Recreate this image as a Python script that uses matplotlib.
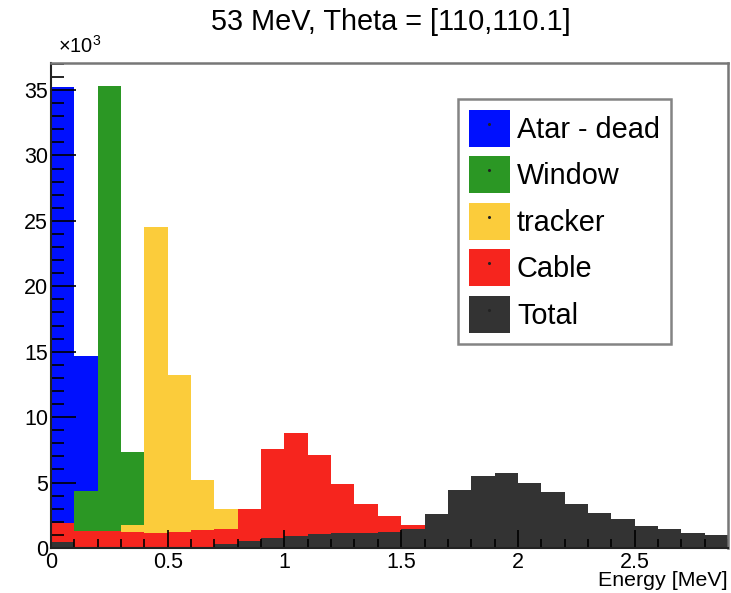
import numpy as np
import matplotlib
matplotlib.use("Agg")
import matplotlib.pyplot as plt
from matplotlib.patches import Patch
from matplotlib.lines import Line2D
from matplotlib.ticker import MultipleLocator

plt.rcParams['font.family'] = ['Liberation Sans', 'DejaVu Sans']

# energy bins, 0.1 MeV wide, 0 - 2.9 MeV ; counts in units of 1e3
edges = np.round(np.arange(0, 3.0, 0.1), 2)

atar = [35.2, 14.7, 0, 0, 0, 0, 0, 0, 0, 0, 0, 0, 0, 0, 0,
        0, 0, 0, 0, 0, 0, 0, 0, 0, 0, 0, 0, 0, 0]
window = [0, 4.35, 35.3, 7.3, 0, 0, 0, 0, 0, 0, 0, 0, 0, 0, 0,
          0, 0, 0, 0, 0, 0, 0, 0, 0, 0, 0, 0, 0, 0]
tracker = [0, 0, 0, 1.76, 24.5, 13.2, 5.2, 2.95, 0, 0, 0, 0, 0, 0, 0,
           0, 0, 0, 0, 0, 0, 0, 0, 0, 0, 0, 0, 0, 0]
cable = [1.93, 1.3, 1.3, 1.25, 1.17, 1.25, 1.37, 1.43, 2.95, 7.6, 8.8, 7.1, 4.9, 3.33, 2.45,
         1.72, 0, 0, 0, 0, 0, 0, 0, 0, 0, 0, 0, 0, 0]
total = [0.43, 0, 0, 0, 0, 0, 0, 0.28, 0.53, 0.74, 0.94, 1.04, 1.12, 1.12, 1.2,
         1.47, 2.57, 4.45, 5.52, 5.7, 5.0, 4.27, 3.4, 2.65, 2.2, 1.7, 1.47, 1.17, 0.97]

names = ['Atar - dead', 'Window', 'tracker', 'Cable', 'Total']
colors = ['#0010fe', '#2b9724', '#fbcc3b', '#f6251e', '#333333']

fig = plt.figure(figsize=(7.31, 5.93), dpi=100)
ax = fig.add_axes([51/731, 45/593, 677/731, 485/593])

# later histograms are drawn over the earlier ones
for vals, c in zip([atar, window, tracker, cable, total], colors):
    ax.stairs(vals, edges, fill=True, color=c, lw=0)

ax.set_xlim(0, 2.9)
ax.set_ylim(0, 37.07)

ax.xaxis.set_major_locator(MultipleLocator(0.5))
ax.xaxis.set_minor_locator(MultipleLocator(0.1))
ax.yaxis.set_major_locator(MultipleLocator(5))
ax.yaxis.set_minor_locator(MultipleLocator(1))
ax.set_xticks([0, 0.5, 1, 1.5, 2, 2.5])
ax.set_xticklabels(['0', '0.5', '1', '1.5', '2', '2.5'])
ax.tick_params(axis='both', which='both', direction='in', labelsize=15.5, colors='black')
ax.tick_params(axis='y', which='major', length=18, width=1.2, pad=2)
ax.tick_params(axis='y', which='minor', length=9, width=1.2)
ax.tick_params(axis='x', which='major', length=13, width=1.2, pad=3)
ax.tick_params(axis='x', which='minor', length=6.5, width=1.2)

for s in ['left', 'bottom']:
    ax.spines[s].set_color('#222222')
    ax.spines[s].set_linewidth(1.5)
for s in ['top', 'right']:
    ax.spines[s].set_color('#777777')
    ax.spines[s].set_linewidth(1.8)

fig.text(391/731, 1 - 22/593, '53 MeV, Theta = [110,110.1]', ha='center', va='center', fontsize=20.8)
fig.text(58/731, 1 - 46/593, r'$\mathregular{\times10^{3}}$', ha='left', va='center', fontsize=14.4)
fig.text(728/731, 1 - 581/593, 'Energy [MeV]', ha='right', va='center', fontsize=15.4)

# fill box with the tiny marker dot in the middle
handles = [(Patch(facecolor=c, edgecolor='none'),
            Line2D([], [], marker='o', ms=1.2, color='#222222', ls='none')) for c in colors]
leg = ax.legend(handles, names, loc='upper left', bbox_to_anchor=(458/731, 1 - 99/593),
                bbox_transform=fig.transFigure, fontsize=20.8, frameon=True, fancybox=False,
                handlelength=1.42, handleheight=1.59, handletextpad=0.24, labelspacing=0.33,
                borderpad=0.38, borderaxespad=0)
leg.get_frame().set_edgecolor('#666666')
leg.get_frame().set_linewidth(1.8)

fig.savefig('out.png', dpi=100)
